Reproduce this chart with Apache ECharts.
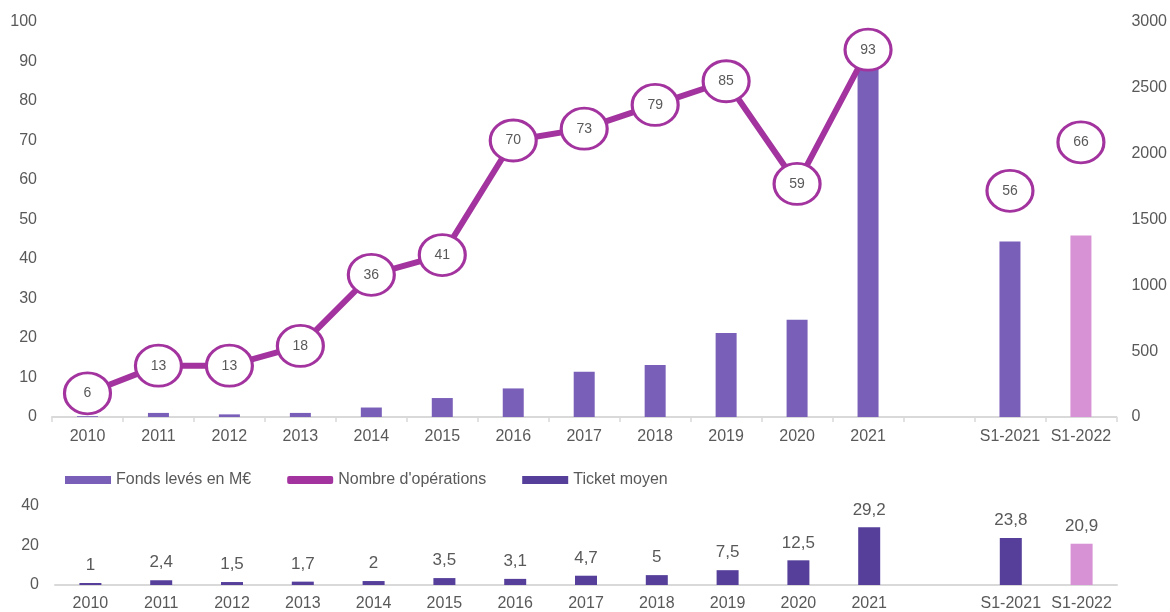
<!DOCTYPE html>
<html>
<head>
<meta charset="utf-8">
<script src="https://cdn.jsdelivr.net/npm/echarts@6/dist/echarts.min.js"></script>
<style>
  html, body { margin: 0; padding: 0; background: #fff; }
  #chart { width: 1170px; height: 612px; }
</style>
</head>
<body>
<div id="chart"></div>
<script>
// categories (empty slot between 2021 and the half-year figures)
const categories = ['2010', '2011', '2012', '2013', '2014', '2015', '2016', '2017', '2018', '2019', '2020', '2021', '', 'S1-2021', 'S1-2022'];
// Fonds levés en M€ (right axis)
const fonds = [6, 31, 20, 31, 72, 144, 217, 343, 395, 638, 738, 2716, null, 1333, 1379];
// Nombre d'opérations (left axis)
const operations = [6, 13, 13, 18, 36, 41, 70, 73, 79, 85, 59, 93, null, 56, 66];
// Ticket moyen en M€
const ticket = [1, 2.4, 1.5, 1.7, 2, 3.5, 3.1, 4.7, 5, 7.5, 12.5, 29.2, null, 23.8, 20.9];

const leftTicks = [0, 100, 10];
const rightTicks = [0, 3000, 500];
const ticketTicks = [0, 40, 20];

const purple = '#7A5FB9';
const pink = '#D791D5';
const magenta = '#A3339E';
const darkPurple = '#553F9A';
const grey = '#595959';
const font = 'Arial, "Liberation Sans", sans-serif';

const chart = echarts.init(document.getElementById('chart'));

// the half-year points stand alone (not joined to the yearly line)
const lastYear = 11;
const lineData = operations.map((v, i) => (i <= lastYear && v != null ? v : '-'));
const s1Offsets = { 13: [0, -5], 14: [0, -14] };
const s1Data = operations.map((v, i) => {
  if (i <= lastYear || v == null) return '-';
  return { value: v, symbolOffset: s1Offsets[i] || [0, 0] };
});

const circle = {
  symbol: 'circle',
  symbolSize: [46, 41],
  itemStyle: { color: '#fff', borderColor: magenta, borderWidth: 3, opacity: 1 },
  label: { show: true, position: 'inside', color: grey, fontSize: 14, fontFamily: font }
};

const xCommon = {
  type: 'category',
  data: categories,
  axisLine: { lineStyle: { color: '#D9D9D9', width: 2 } },
  axisLabel: { color: grey, fontSize: 16, fontFamily: font, interval: 0 }
};

const noLine = { splitLine: { show: false }, axisLine: { show: false }, axisTick: { show: false } };

const option = {
  animation: false,
  backgroundColor: '#fff',
  textStyle: { fontFamily: font },
  legend: {
    left: 60,
    top: 467,
    itemWidth: 46,
    itemHeight: 8,
    itemGap: 36,
    textStyle: { color: grey, fontSize: 16, fontFamily: font },
    data: [
      { name: 'Fonds levés en M€', icon: 'rect', itemStyle: { color: purple } },
      { name: "Nombre d'opérations", icon: 'roundRect',
        itemStyle: { color: magenta, borderWidth: 0 } },
      { name: 'Ticket moyen', icon: 'rect', itemStyle: { color: darkPurple } }
    ]
  },
  grid: [
    { left: 52, right: 53, top: 22, height: 395 },
    { left: 55, right: 53, top: 506, height: 80 }
  ],
  xAxis: [
    Object.assign({}, xCommon, {
      gridIndex: 0,
      axisTick: { show: true, length: 5, lineStyle: { color: '#D9D9D9', width: 1.5 } },
      axisLabel: Object.assign({}, xCommon.axisLabel, { margin: 12 })
    }),
    Object.assign({}, xCommon, {
      gridIndex: 1,
      axisTick: { show: false },
      axisLabel: Object.assign({}, xCommon.axisLabel, { margin: 11 })
    })
  ],
  yAxis: [
    Object.assign({
      type: 'value', gridIndex: 0, position: 'left',
      min: leftTicks[0], max: leftTicks[1], interval: leftTicks[2],
      axisLabel: { color: grey, fontSize: 16, fontFamily: font, margin: 15 }
    }, noLine),
    Object.assign({
      type: 'value', gridIndex: 0, position: 'right',
      min: rightTicks[0], max: rightTicks[1], interval: rightTicks[2],
      axisLabel: { color: grey, fontSize: 16, fontFamily: font, margin: 15,
        formatter: v => String(v) }
    }, noLine),
    Object.assign({
      type: 'value', gridIndex: 1,
      min: ticketTicks[0], max: ticketTicks[1], interval: ticketTicks[2],
      axisLabel: { color: grey, fontSize: 16, fontFamily: font, margin: 16 }
    }, noLine)
  ],
  series: [
    {
      name: 'Fonds levés en M€',
      type: 'bar',
      xAxisIndex: 0, yAxisIndex: 1,
      barWidth: 21,
      itemStyle: { color: purple },
      data: fonds.map((v, i) => (v == null ? '-' :
        (categories[i] === 'S1-2022' ? { value: v, itemStyle: { color: pink } } : v))),
      z: 1
    },
    Object.assign({
      name: "Nombre d'opérations",
      type: 'line',
      xAxisIndex: 0, yAxisIndex: 0,
      lineStyle: { color: magenta, width: 6 },
      data: lineData,
      showAllSymbol: true,
      z: 3
    }, circle),
    Object.assign({
      name: "Nombre d'opérations",
      type: 'scatter',
      xAxisIndex: 0, yAxisIndex: 0,
      data: s1Data,
      z: 3
    }, circle),
    {
      name: 'Ticket moyen',
      type: 'bar',
      xAxisIndex: 1, yAxisIndex: 2,
      barWidth: 22,
      itemStyle: { color: darkPurple },
      label: {
        show: true, position: 'top', distance: 9,
        color: grey, fontSize: 17, fontFamily: font,
        formatter: p => String(p.value).replace('.', ',')
      },
      data: ticket.map((v, i) => (v == null ? '-' :
        (categories[i] === 'S1-2022' ? { value: v, itemStyle: { color: pink } } : v)))
    }
  ]
};

chart.setOption(option);
</script>
</body>
</html>
